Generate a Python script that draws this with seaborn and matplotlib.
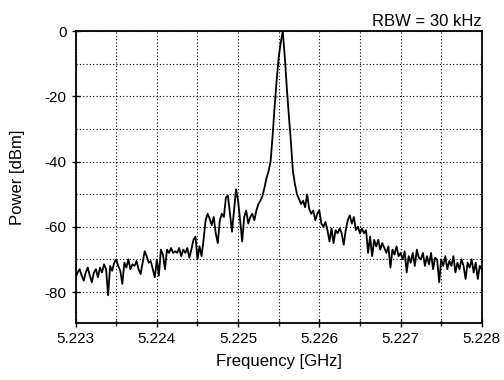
import matplotlib
matplotlib.use('Agg')
import matplotlib.pyplot as plt
import numpy as np
import pandas as pd
import seaborn as sns
from matplotlib.ticker import MultipleLocator, FormatStrFormatter

# sweep: 5.223 .. 5.228 GHz, 201 points
f_start = 5.223
f_stop = 5.228

power_dbm = [
    # 5.22300 - 5.22323
    -75.5, -74, -73, -75, -76.5, -74, -72.5, -75, -77, -74,
    # 5.22325 - 5.22348
    -73, -75.5, -72.5, -74, -71.5, -73, -81, -72, -73.5, -71,
    # 5.22350 - 5.22373
    -70, -72, -73.5, -77.5, -71, -72.5, -70, -73, -71.5, -72,
    # 5.22375 - 5.22398
    -70.5, -73, -74.5, -71, -67.5, -69, -71, -70.5, -73, -75.5,
    # 5.22400 - 5.22423
    -70, -75, -67, -68.5, -73, -67, -68, -66.5, -68, -67.5,
    # 5.22425 - 5.22448
    -68, -66.5, -69, -67, -68, -66.5, -69.5, -67, -64, -63,
    # 5.22450 - 5.22473
    -70, -66, -69, -64, -58, -56, -57.5, -59.5, -57, -62,
    # 5.22475 - 5.22498
    -65, -58, -56, -57, -51, -50.5, -56, -61.5, -55, -48.5,
    # 5.22500 - 5.22523
    -52, -58, -64.5, -57, -55, -59, -57, -56, -58, -55,
    # 5.22525 - 5.22548
    -53, -52, -50.5, -48, -45, -43, -40, -32, -23, -15,
    # 5.22550 - 5.22573
    -8, -3.5, 0, -8, -17.5, -26, -34, -43, -47, -50,
    # 5.22575 - 5.22598
    -51.5, -53, -52, -54, -50, -54.5, -56, -55, -58, -56,
    # 5.22600 - 5.22623
    -55, -59, -60, -58.5, -61, -64.5, -60.5, -65, -61, -62,
    # 5.22625 - 5.22648
    -60.5, -62, -65.5, -61, -58, -56.5, -59, -57, -61, -60,
    # 5.22650 - 5.22673
    -62, -60.5, -62, -61, -68, -63, -69, -64, -66, -64,
    # 5.22675 - 5.22698
    -67, -65, -66.5, -68, -66, -72.5, -67, -68.5, -66, -69,
    # 5.22700 - 5.22723
    -68, -70, -67.5, -74, -69, -71, -68, -72, -67, -69.5,
    # 5.22725 - 5.22748
    -70, -68, -72, -69, -71.5, -68, -73, -69.5, -70, -77,
    # 5.22750 - 5.22773
    -70, -72, -69, -73, -70.5, -72, -69, -74, -71, -73,
    # 5.22775 - 5.22798
    -70, -72, -76, -71, -72.5, -70, -74, -71, -76, -72,
    # 5.22800
    -73,
]

x_ticks = [5.223, 5.224, 5.225, 5.226, 5.227, 5.228]
y_ticks = [0, -20, -40, -60, -80]

df = pd.DataFrame({
    'Frequency [GHz]': np.linspace(f_start, f_stop, len(power_dbm)),
    'Power [dBm]': power_dbm,
})

sns.set_theme(style='white')
plt.rcParams['font.family'] = ['Liberation Sans', 'DejaVu Sans']
plt.rcParams['axes.unicode_minus'] = False

fig = plt.figure(figsize=(5.04, 3.80), dpi=100)
ax = fig.add_axes([0.150, 0.150, 0.806, 0.768])

sns.lineplot(data=df, x='Frequency [GHz]', y='Power [dBm]', ax=ax,
             color='black', linewidth=1.3)

ax.set_xlim(f_start, f_stop)
ax.set_ylim(-89.5, 0)
ax.set_xticks(x_ticks)
ax.set_yticks(y_ticks)
ax.xaxis.set_major_formatter(FormatStrFormatter('%.3f'))
ax.xaxis.set_minor_locator(MultipleLocator(0.0005))
ax.yaxis.set_minor_locator(MultipleLocator(10))

ax.grid(True, which='both', linestyle=(0, (1, 2)), color='black', linewidth=0.8)
ax.tick_params(which='major', direction='inout', length=6, width=1,
               labelsize=11, colors='black', bottom=True, left=True)
ax.tick_params(which='minor', direction='inout', length=4, width=1,
               bottom=True, left=False)

for sp in ax.spines.values():
    sp.set_color('black')
    sp.set_linewidth(1.3)

ax.set_xlabel('Frequency [GHz]', fontsize=12, color='black', labelpad=6)
ax.set_ylabel('Power [dBm]', fontsize=12, color='black', labelpad=14)
ax.set_title('RBW = 30 kHz', loc='right', fontsize=12, color='black', pad=4)

fig.savefig('out.png', dpi=100)
